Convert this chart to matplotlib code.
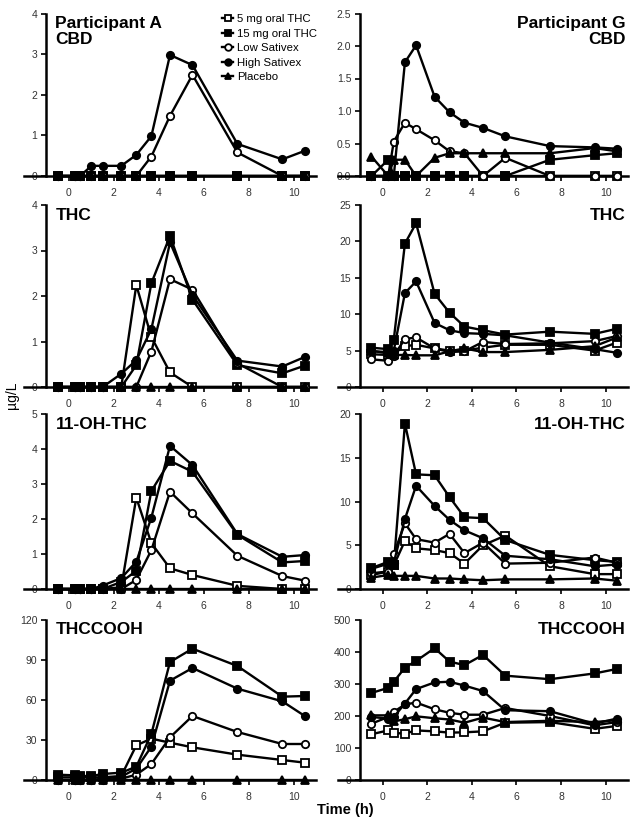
import numpy as np
import matplotlib
matplotlib.use("Agg")
import matplotlib.pyplot as plt

plt.rcParams['font.family'] = ['Liberation Sans', 'DejaVu Sans']

W, H = 633, 825

t = [-0.5, 0.25, 0.5, 1, 1.5, 2.33, 3, 3.67, 4.5, 5.5, 7.5, 9.5, 10.5]
groups = ["5 mg oral THC", "15 mg oral THC", "Low Sativex", "High Sativex", "Placebo"]
zeros = [0] * 13

# Participant A
A_cbd = [zeros, zeros,
         [0, 0, 0, 0, 0, 0, 0, 0.48, 1.48, 2.49, 0.58, 0, 0],
         [0, 0, 0, 0.25, 0.25, 0.25, 0.52, 0.98, 2.98, 2.73, 0.79, 0.41, 0.62],
         zeros]
A_thc = [[0, 0, 0, 0, 0, 0, 2.24, 1.1, 0.32, 0, 0, 0, 0],
         [0, 0, 0, 0, 0, 0, 0.48, 2.28, 3.32, 1.92, 0.48, 0.3, 0.47],
         [0, 0, 0, 0, 0, 0, 0, 0.78, 2.37, 2.14, 0.52, 0, 0],
         [0, 0, 0, 0, 0, 0.29, 0.59, 1.27, 3.18, 2.02, 0.58, 0.45, 0.66],
         zeros]
A_oh = [[0, 0, 0, 0, 0, 0.05, 2.61, 1.31, 0.59, 0.4, 0.09, 0, 0],
        [0, 0, 0, 0, 0, 0.2, 0.52, 2.8, 3.66, 3.35, 1.55, 0.76, 0.8],
        [0, 0, 0, 0, 0, 0, 0.26, 1.11, 2.78, 2.16, 0.95, 0.37, 0.24],
        [0, 0, 0, 0, 0.1, 0.31, 0.78, 2.04, 4.09, 3.54, 1.57, 0.92, 0.97],
        zeros]
A_cooh = [[2, 2, 2, 2, 2, 3, 26, 31, 28, 24.5, 19, 15, 13],
          [4, 3.5, 3, 3, 4.5, 5.5, 10, 34.5, 88.5, 98.5, 85.5, 62.5, 63],
          [0, 0, 0, 0, 0, 1, 4, 12, 32, 48, 36, 27, 27],
          [0, 0, 0, 0, 1, 2.5, 8.5, 25, 74.5, 84, 68.5, 59, 48],
          zeros]

# Participant G
G_cbd = [[0, 0, 0, 0, 0, 0, 0, 0, 0, 0, 0, 0, 0],
         [0, 0.25, 0, 0, 0, 0, 0, 0, 0, 0, 0.25, 0.32, 0.35],
         [0, 0, 0.53, 0.82, 0.72, 0.55, 0.38, 0.35, 0, 0.28, 0, 0, 0],
         [0, 0, 0, 1.75, 2.01, 1.22, 0.98, 0.82, 0.74, 0.61, 0.46, 0.44, 0.42],
         [0.3, 0, 0.25, 0.25, 0, 0.28, 0.35, 0.35, 0.35, 0.35, 0.35, 0.43, 0.38]]
G_thc = [[4.5, 4.4, 4.6, 5.6, 5.8, 5.3, 5.0, 5.0, 5.4, 5.8, 5.8, 5.0, 6.1],
         [5.4, 5.2, 6.5, 19.7, 22.5, 12.8, 10.2, 8.3, 7.8, 7.2, 7.6, 7.3, 8.0],
         [3.8, 3.6, 4.3, 6.6, 6.8, 5.3, 4.8, 4.9, 6.2, 5.9, 6.0, 6.3, 7.0],
         [5.0, 4.6, 5.0, 12.9, 14.5, 8.8, 7.8, 7.4, 7.3, 7.1, 6.1, 5.2, 4.7],
         [4.9, 4.8, 4.4, 4.4, 4.35, 4.35, 4.9, 5.3, 4.8, 4.8, 5.1, 5.6, 6.8]]
G_oh = [[1.6, 2.0, 2.7, 5.5, 4.65, 4.45, 4.1, 2.9, 5.0, 6.1, 2.6, 1.7, 1.7],
        [2.4, 3.1, 2.7, 18.9, 13.1, 13.0, 10.5, 8.2, 8.1, 5.6, 3.9, 3.3, 3.1],
        [1.8, 2.0, 4.0, 7.5, 5.7, 5.3, 6.3, 4.1, 5.3, 2.9, 3.0, 3.6, 3.0],
        [2.3, 2.9, 3.0, 8.0, 11.8, 9.5, 7.9, 6.7, 5.8, 3.8, 3.4, 2.6, 2.8],
        [1.3, 1.6, 1.5, 1.5, 1.5, 1.2, 1.2, 1.1, 1.0, 1.1, 1.1, 1.2, 0.95]]
G_cooh = [[143, 155, 147, 145, 155, 152, 148, 149, 152, 179, 181, 160, 169],
          [272, 288, 307, 351, 372, 412, 370, 359, 391, 326, 315, 333, 347],
          [176, 197, 213, 236, 242, 221, 210, 204, 204, 225, 200, 171, 181],
          [197, 192, 197, 239, 284, 305, 307, 295, 278, 218, 215, 176, 192],
          [202, 202, 183, 190, 199, 193, 189, 179, 195, 181, 185, 181, 187]]

markers = ['s', 's', 'o', 'o', '^']
faces = ['white', 'black', 'white', 'black', 'black']

# column x extents and row y extents in pixels
col_x = [(24, 316), (338, 628)]
rows_y = [(13.5, 176), (205, 387), (414, 589), (620, 780)]
panels = [
    (A_cbd, 4, [0, 1, 2, 3, 4], "{:g}", "Participant A\nCBD", 0, 0),
    (A_thc, 4, [0, 1, 2, 3, 4], "{:g}", "THC", 0, 1),
    (A_oh, 5, [0, 1, 2, 3, 4, 5], "{:g}", "11-OH-THC", 0, 2),
    (A_cooh, 120, [0, 30, 60, 90, 120], "{:g}", "THCCOOH", 0, 3),
    (G_cbd, 2.5, [0, 0.5, 1, 1.5, 2, 2.5], "{:.1f}", "Participant G\nCBD", 1, 0),
    (G_thc, 25, [0, 5, 10, 15, 20, 25], "{:g}", "THC", 1, 1),
    (G_oh, 20, [0, 5, 10, 15, 20], "{:g}", "11-OH-THC", 1, 2),
    (G_cooh, 500, [0, 100, 200, 300, 400, 500], "{:g}", "THCCOOH", 1, 3),
]

fig = plt.figure(figsize=(W / 100, H / 100), dpi=100)

for data, ymax, yt, fmt, title, c, r in panels:
    x0, x1 = col_x[c]
    top, bot = rows_y[r]
    ax = fig.add_axes([x0 / W, 1 - bot / H, (x1 - x0) / W, (bot - top) / H])
    for i, series in enumerate(data):
        ax.plot(t, series, color='black', lw=1.7, marker=markers[i], ms=5.3,
                mfc=faces[i], mec='black', mew=1.3, clip_on=False, zorder=3,
                label=groups[i])
    ax.set_xlim(-2, 11)
    ax.set_ylim(0, ymax)
    ax.set_xticks([0, 2, 4, 6, 8, 10])
    ax.set_yticks(yt)
    ax.set_yticklabels([fmt.format(v) for v in yt])
    for s in ['top', 'right']:
        ax.spines[s].set_visible(False)
    ax.spines['left'].set_position(('data', -1))
    ax.spines['left'].set_linewidth(1.8)
    ax.spines['bottom'].set_linewidth(1.8)
    ax.tick_params(direction='out', length=3.5, width=1.2, labelsize=7.5,
                   labelcolor='#333333', pad=3)
    ax.tick_params(axis='x', pad=5)
    ax.patch.set_visible(False)
    if c == 0:
        ax.text(-0.6, ymax * 0.985, title, fontsize=12.5, fontweight='bold',
                ha='left', va='top', linespacing=1.05)
    else:
        ax.text(10.9, ymax * 0.985, title, fontsize=12.5, fontweight='bold',
                ha='right', va='top', linespacing=1.05)
    if c == 0 and r == 0:
        ax.legend(loc='upper left', bbox_to_anchor=(222 / W, 1 - 14 / H),
                  bbox_transform=fig.transFigure, frameon=False, fontsize=8.2,
                  handlelength=1.0, handletextpad=0.35, labelspacing=0.4,
                  borderpad=0, borderaxespad=0, markerscale=0.9)

fig.text(12 / W, 1 - 395 / H, "µg/L", rotation=90, fontsize=10,
         ha='center', va='center')
fig.text(345 / W, 1 - 810 / H, "Time (h)", fontsize=10.5, fontweight='bold',
         ha='center', va='center')

fig.savefig("out.png", dpi=100)
